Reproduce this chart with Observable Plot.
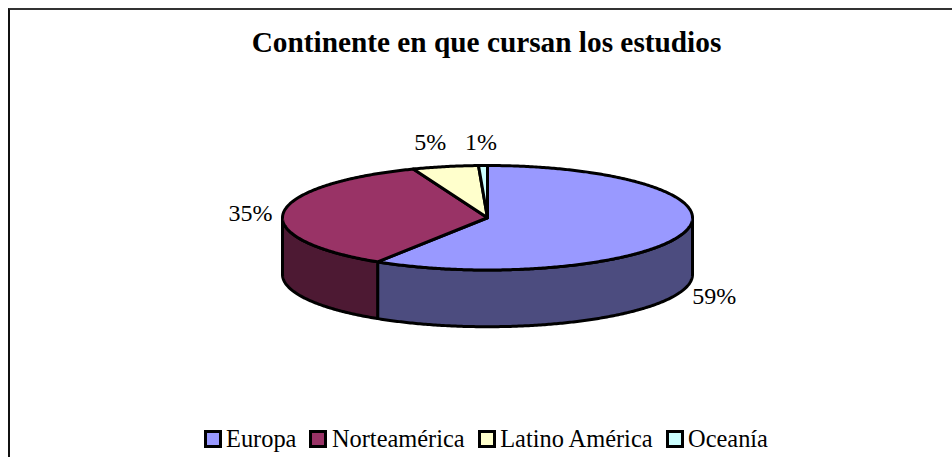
<!DOCTYPE html>
<html><head><meta charset="utf-8">
<script src="https://cdn.jsdelivr.net/npm/d3@7"></script>
<script src="https://cdn.jsdelivr.net/npm/@observablehq/plot@0.6"></script>
<style>
html,body{margin:0;padding:0;background:#fff;overflow:hidden}
#frame{box-sizing:border-box;margin:8px 0 0 8px;width:944px;height:449px;border-top:2px solid #333;border-left:2px solid #111;overflow:hidden;font-family:"Liberation Serif",serif;color:#000}
#title{height:100px;box-sizing:border-box;padding-top:15px;padding-left:11px;text-align:center;font-weight:bold;font-size:29.3px;line-height:34px;white-space:nowrap}
#chart svg{display:block}
#chart{height:300px}
#legend{position:relative;height:47px;display:flex;padding-left:193.5px;padding-top:11px;box-sizing:border-box;font-size:24.4px;line-height:28px;white-space:nowrap}
#legend .item{display:flex;align-items:center;margin-right:13px}
#legend .sw{display:inline-block;box-sizing:border-box;width:18px;height:18px;border:3px solid #000;margin-right:4.5px}
</style></head><body>
<div id="frame">
  <div id="title"></div>
  <div id="chart"></div>
  <div id="legend"></div>
</div>
<script>
const chartTitle = "Continente en que cursan los estudios";
const continents = ["Europa", "Norteamérica", "Latino América", "Oceanía"];
const shares = [59.0, 35.1, 5.2, 0.7];
const topColors = ["#9999FF", "#993366", "#FFFFCC", "#CCFFFF"];
const wallColors = ["#4C4C7F", "#4D1933", "#7F7F66", "#667F7F"];

const depth = 57 / 52.5;               // wall height in units of the ellipse's vertical radius
const tau = 2 * Math.PI;
const total = d3.sum(shares);
const pt = (a, drop = 0) => ({x: Math.sin(a), y: Math.cos(a) - drop});

let acc = 0;
const slices = continents.map((name, i) => {
  const a0 = acc / total * tau; acc += shares[i]; const a1 = acc / total * tau;
  return {name, a0, a1, mid: (a0 + a1) / 2, top: topColors[i], wall: wallColors[i], label: Math.round(shares[i]) + "%"};
});

const arc = (a0, a1, drop = 0) => {
  const n = Math.max(2, Math.ceil((a1 - a0) / 0.01));
  return d3.range(n + 1).map(k => pt(a0 + (a1 - a0) * k / n, drop));
};
const topPath = s => [{x: 0, y: 0}, ...arc(s.a0, s.a1)];
// The wall is visible only on the near half of the rim.
const wallPath = s => {
  const a0 = Math.max(s.a0, Math.PI / 2), a1 = Math.min(s.a1, 1.5 * Math.PI);
  if (a1 <= a0) return null;
  return [...arc(a0, a1), ...arc(a0, a1, depth).reverse()];
};
const face = (path, fill) => Plot.line(path, {x: "x", y: "y", fill, stroke: "#000", strokeWidth: 3, curve: "linear-closed"});
const nudges = [[30, 64], [-33, 1], [-15, -24], [-2, -23]];
const font = {fontFamily: "Liberation Serif", fontSize: 24, fill: "#000", textAnchor: "middle"};

const marks = [
  ...slices.filter(wallPath).map(s => face(wallPath(s), s.wall)),
  ...slices.map(s => face(topPath(s), s.top)),
  ...slices.map((s, i) => Plot.text([s], {x: d => pt(d.mid).x, y: d => pt(d.mid).y, text: "label", dx: nudges[i][0], dy: nudges[i][1], ...font}))
];

document.getElementById("title").textContent = chartTitle;
document.getElementById("chart").append(Plot.plot({
  width: 942, height: 300, margin: 0,
  x: {axis: null, domain: [-1, 1], range: [272, 682]},
  y: {axis: null, domain: [-1, 1], range: [159.5, 55]},
  marks
}));
const legend = d3.select("#legend");
slices.forEach(s => {
  const it = legend.append("div").attr("class", "item");
  it.append("span").attr("class", "sw").style("background", s.top);
  it.append("span").text(s.name);
});
</script>
</body></html>
